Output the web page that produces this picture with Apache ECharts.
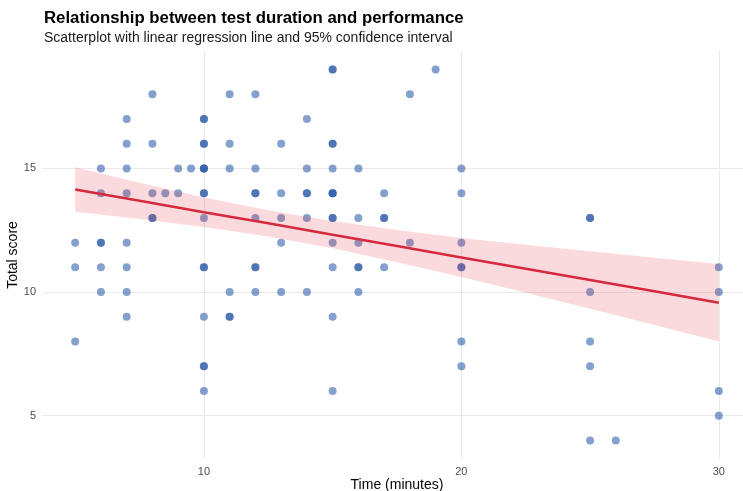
<!DOCTYPE html>
<html>
<head>
<meta charset="utf-8">
<title>Test duration vs performance</title>
<script src="https://cdn.jsdelivr.net/npm/echarts@6/dist/echarts.min.js"></script>
<style>
  html, body { margin: 0; padding: 0; background: #ffffff; }
  #chart { width: 743px; height: 491px; }
</style>
</head>
<body>
<div id="chart"></div>
<script>
// Observations: test duration (minutes) and total score, one entry per student
var timeMinutes = [
  5, 5, 5,
  6, 6, 6, 6, 6, 6,
  7, 7, 7, 7, 7, 7, 7, 7,
  8, 8, 8, 8, 8,
  8.5,
  9, 9,
  9.5,
  10, 10, 10, 10, 10, 10, 10, 10, 10, 10, 10, 10, 10, 10, 10, 10,
  11, 11, 11, 11, 11, 11,
  12, 12, 12, 12, 12, 12, 12, 12,
  13, 13, 13, 13, 13,
  14, 14, 14, 14, 14, 14,
  15, 15, 15, 15, 15, 15, 15, 15, 15, 15, 15, 15, 15, 15,
  16, 16, 16, 16, 16, 16,
  17, 17, 17, 17,
  18, 18,
  19,
  20, 20, 20, 20, 20, 20, 20,
  25, 25, 25, 25, 25, 25,
  26,
  30, 30, 30, 30
];
var totalScore = [
  12, 11, 8,
  15, 14, 12, 12, 11, 10,
  17, 16, 15, 14, 12, 11, 10, 9,
  18, 16, 14, 13, 13,
  14,
  15, 14,
  15,
  17, 17, 16, 16, 15, 15, 15, 14, 14, 13, 11, 11, 9, 7, 7, 6,
  18, 16, 15, 10, 9, 9,
  18, 15, 14, 14, 13, 11, 11, 10,
  16, 14, 13, 12, 10,
  17, 15, 14, 14, 13, 10,
  19, 19, 16, 16, 15, 14, 14, 14, 13, 13, 12, 11, 9, 6,
  15, 13, 12, 11, 11, 10,
  14, 13, 13, 11,
  18, 12,
  19,
  15, 14, 12, 11, 11, 8, 7,
  13, 13, 10, 8, 7, 4,
  4,
  11, 10, 6, 5
];

// Fitted regression line with its 95% confidence band
var fitX     = [5, 7.5, 10, 12.5, 15, 17.5, 20, 22.5, 25, 27.5, 30];
var fitY     = [14.15, 13.69, 13.23, 12.78, 12.32, 11.86, 11.40, 10.94, 10.49, 10.03, 9.57];
var ciLower  = [13.25, 12.96, 12.63, 12.25, 11.77, 11.21, 10.61, 9.97, 9.33, 8.67, 8.00];
var ciUpper  = [15.05, 14.42, 13.83, 13.31, 12.87, 12.51, 12.19, 11.91, 11.65, 11.39, 11.14];

// Axis ticks
var xTicks = [10, 20, 30];
var yTicks = [5, 10, 15];

var FONT = '"Liberation Sans", Arial, Helvetica, sans-serif';
var GRID_COLOR = '#EBEBEB';

var scatterData = timeMinutes.map(function (t, i) { return [t, totalScore[i]]; });
var fitData = fitX.map(function (x, i) { return [x, fitY[i]]; });

var gridLines = xTicks.map(function (v) { return { xAxis: v }; })
  .concat(yTicks.map(function (v) { return { yAxis: v }; }));

// Confidence band as one polygon: along the upper bound, back along the lower bound
function renderBand(params, api) {
  var pts = [];
  for (var i = 0; i < fitX.length; i++) {
    pts.push(api.coord([fitX[i], ciUpper[i]]));
  }
  for (var j = fitX.length - 1; j >= 0; j--) {
    pts.push(api.coord([fitX[j], ciLower[j]]));
  }
  return {
    type: 'polygon',
    shape: { points: pts },
    style: { fill: 'rgba(232, 60, 75, 0.19)' },
    silent: true
  };
}

var chart = echarts.init(document.getElementById('chart'), null, { renderer: 'canvas' });

chart.setOption({
  animation: false,
  backgroundColor: '#ffffff',
  title: {
    left: 39,
    top: 5,
    text: 'Relationship between test duration and performance',
    subtext: 'Scatterplot with linear regression line and 95% confidence interval',
    itemGap: 4,
    textStyle: { fontFamily: FONT, fontSize: 16.8, fontWeight: 'bold', color: '#000000' },
    subtextStyle: { fontFamily: FONT, fontSize: 14, color: '#1a1a1a' }
  },
  grid: {
    left: 43,
    right: -8,
    top: 51,
    bottom: 32,
    containLabel: false,
    outerBoundsMode: 'none'
  },
  xAxis: {
    type: 'value',
    min: 3.75,
    max: 31.25,
    name: 'Time (minutes)',
    nameLocation: 'middle',
    nameGap: 19,
    nameMoveOverlap: false,
    nameTextStyle: { fontFamily: FONT, fontSize: 14, color: '#000000', verticalAlign: 'top' },
    axisLine: { show: false },
    axisTick: { show: false },
    splitLine: { show: false },
    axisLabel: {
      customValues: xTicks,
      margin: 7,
      fontFamily: FONT,
      fontSize: 11,
      color: '#4D4D4D'
    }
  },
  yAxis: {
    type: 'value',
    min: 3.25,
    max: 19.75,
    name: 'Total score',
    nameLocation: 'middle',
    nameGap: 23,
    nameMoveOverlap: false,
    nameTextStyle: { fontFamily: FONT, fontSize: 14, color: '#000000' },
    axisLine: { show: false },
    axisTick: { show: false },
    splitLine: { show: false },
    axisLabel: {
      customValues: yTicks,
      margin: 7,
      fontFamily: FONT,
      fontSize: 11,
      color: '#4D4D4D'
    }
  },
  series: [
    {
      // panel grid lines
      type: 'line',
      data: [],
      z: 0,
      silent: true,
      markLine: {
        z: 0,
        silent: true,
        symbol: 'none',
        animation: false,
        label: { show: false },
        lineStyle: { color: GRID_COLOR, width: 1.2, type: 'solid' },
        emphasis: { disabled: true },
        data: gridLines
      }
    },
    {
      type: 'scatter',
      data: scatterData,
      z: 2,
      symbol: 'circle',
      symbolSize: 8,
      itemStyle: { color: 'rgba(35, 85, 165, 0.7)' },
      silent: true
    },
    {
      type: 'custom',
      coordinateSystem: 'cartesian2d',
      data: [[fitX[0], fitY[0]]],
      encode: { x: 0, y: 1 },
      z: 3,
      silent: true,
      renderItem: renderBand
    },
    {
      type: 'line',
      data: fitData,
      z: 4,
      symbol: 'none',
      silent: true,
      lineStyle: { color: '#D42A3C', width: 2.5 }
    }
  ]
});
</script>
</body>
</html>
